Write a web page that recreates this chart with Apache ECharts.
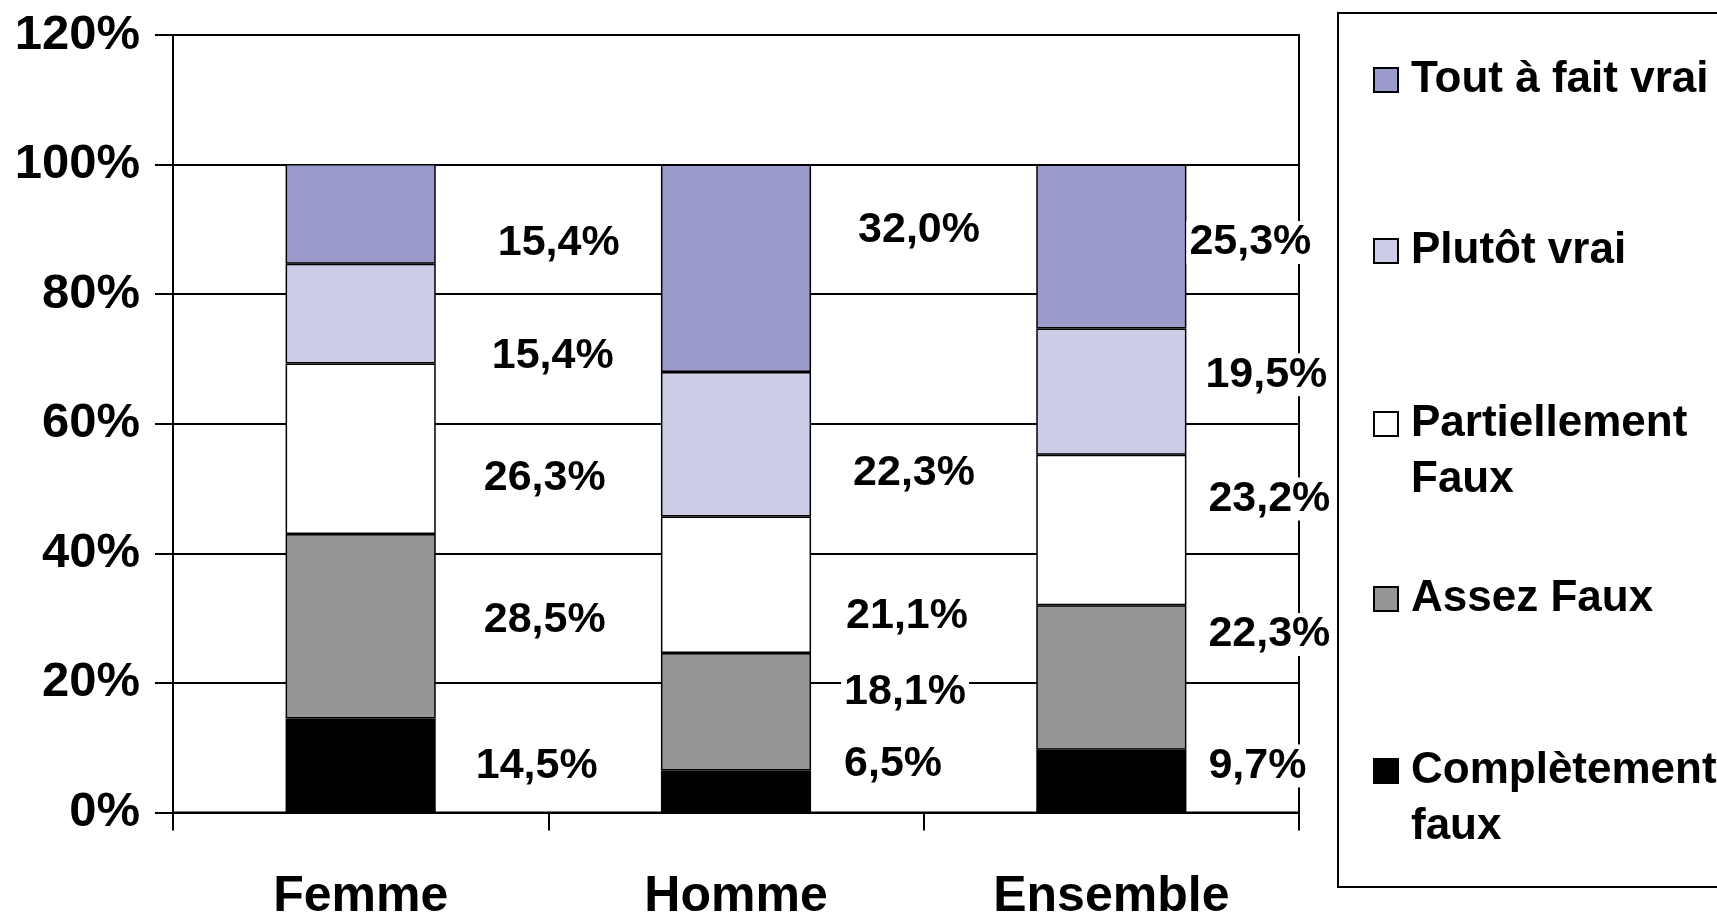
<!DOCTYPE html>
<html><head><meta charset="utf-8">
<script src="https://cdn.jsdelivr.net/npm/echarts@6/dist/echarts.min.js"></script>
<style>html,body{margin:0;padding:0;background:#fff}#c{width:1717px;height:920px}</style>
</head><body><div id="c"></div>
<script>
// ---- data ----
const categories = ['Femme', 'Homme', 'Ensemble'];
const seriesNames = ['Complètement faux', 'Assez Faux', 'Partiellement Faux', 'Plutôt vrai', 'Tout à fait vrai'];
const completementFaux = [14.5, 6.5, 9.7];
const assezFaux = [28.5, 18.1, 22.3];
const partiellementFaux = [26.3, 21.1, 23.2];
const plutotVrai = [15.4, 22.3, 19.5];
const toutAFaitVrai = [15.4, 32.0, 25.3];
const yTickStep = 20;
const yMax = 120;

// ---- styling ----
const FONT = '"Liberation Sans", Arial, sans-serif';
const colors = ['#000000', '#969696', '#FFFFFF', '#CCCCE6', '#9A9ACB'];
// label placement tweaks (pixels), per series, per category
const labelDx = [[40, 33, 22], [48, 33, 22], [48, 35, 22], [56, 42, 19], [62, 47, 3]];
const labelDy = [[1, -27, -15], [-6, -20, -43], [29, 31, -31], [43, 29, -17], [29, -38, -4]];
const legendOrder = [4, 3, 2, 1, 0];
const legendLabels = ['Tout à fait vrai', 'Plutôt vrai', ' \nPartiellement\nFaux', 'Assez Faux', ' \nComplètement\nfaux'];
const legendCenters = [80, 251, 424, 599, 771];
const legendLines = [1, 1, 3, 1, 3];
const LINE_H = 56;

const values = [completementFaux, assezFaux, partiellementFaux, plutotVrai, toutAFaitVrai];
const fmt = v => v.toFixed(1).replace('.', ',') + '%';

const series = values.map((arr, s) => ({
  name: seriesNames[s],
  type: 'bar',
  stack: 'total',
  barWidth: '40%',
  itemStyle: { color: colors[s], borderColor: '#000', borderWidth: 1.5 },
  label: {
    show: true, position: 'right', distance: 0,
    formatter: p => fmt(p.value),
    fontFamily: FONT, fontWeight: 'bold', fontSize: 43, color: '#000',
    backgroundColor: '#fff', padding: [0, 3]
  },
  data: arr.map((v, i) => ({ value: v, label: { offset: [labelDx[s][i] - 3, labelDy[s][i]] } }))
}));

const legends = legendOrder.map((s, k) => ({
  data: [seriesNames[s]],
  orient: 'vertical',
  left: 1373,
  top: legendCenters[k] - (legendLines[k] * LINE_H) / 2,
  padding: 0,
  icon: 'rect',
  itemWidth: 24, itemHeight: 24,
  selectedMode: false,
  formatter: () => legendLabels[k],
  textStyle: { fontFamily: FONT, fontWeight: 'bold', fontSize: 44, color: '#000', lineHeight: LINE_H, padding: [0, 0, 0, 8] }
}));

const chart = echarts.init(document.getElementById('c'), null, { renderer: 'canvas' });
chart.setOption({
  animation: false,
  backgroundColor: '#fff',
  grid: { left: 173, right: 418, top: 35, bottom: 107.5, show: true, borderColor: '#000', borderWidth: 2, containLabel: false, outerBoundsMode: 'none' },
  legend: legends,
  graphic: [{ type: 'rect', shape: { x: 1338, y: 13, width: 420, height: 874 }, style: { fill: 'none', stroke: '#000', lineWidth: 2 }, silent: true }],
  xAxis: {
    type: 'category', data: categories,
    axisLine: { lineStyle: { color: '#000', width: 2 } },
    axisTick: { show: true, length: 18, interval: 0, lineStyle: { color: '#000', width: 2 } },
    axisLabel: { fontFamily: FONT, fontWeight: 'bold', fontSize: 50, color: '#000', margin: 60, interval: 0 }
  },
  yAxis: {
    type: 'value', min: 0, max: yMax, interval: yTickStep,
    axisLine: { show: true, lineStyle: { color: '#000', width: 2 } },
    axisTick: { show: true, length: 18, lineStyle: { color: '#000', width: 2 } },
    splitLine: { show: true, lineStyle: { color: '#000', width: 2 } },
    axisLabel: { formatter: '{value}%', fontFamily: FONT, fontWeight: 'bold', fontSize: 49, color: '#000', margin: 33 }
  },
  series: series
});
</script></body></html>
